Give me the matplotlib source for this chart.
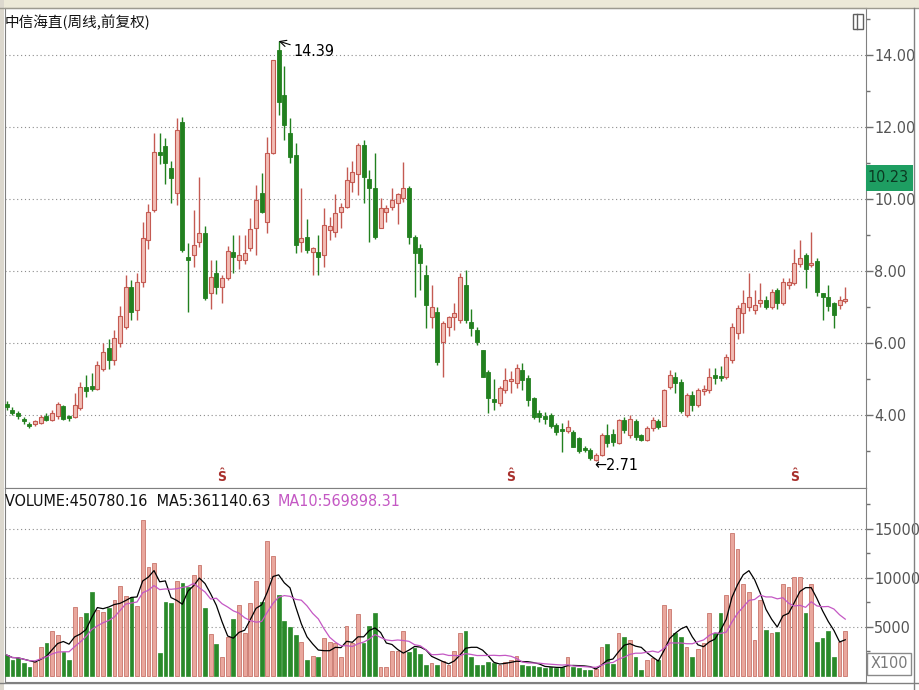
import matplotlib
matplotlib.use('Agg')
import matplotlib.pyplot as plt
import numpy as np
import pandas as pd
from matplotlib import font_manager
from matplotlib.patches import Rectangle
from matplotlib.lines import Line2D


def narrow_font():
    fm = font_manager.fontManager
    names = {f.name for f in fm.ttflist}
    if 'Liberation Sans Narrow' in names:
        return 'Liberation Sans Narrow', 'normal', 12.5
    for f in fm.ttflist:
        if f.name == 'DejaVu Sans' and 'Condensed' in f.fname and 'Bold' not in f.fname \
                and 'Oblique' not in f.fname:
            return 'DejaVu Sans', 'condensed', 11.5
    return 'Liberation Sans', 'normal', 10.5


NARROW, STRETCH, SZ = narrow_font()
plt.rcParams['font.family'] = [NARROW, 'DejaVu Sans']
plt.rcParams['font.stretch'] = STRETCH
CJK = ['Noto Sans CJK SC', 'DejaVu Sans']

# weekly OHLC
opens = [4.30, 4.15, 4.05, 3.90, 3.76, 3.74, 3.78, 3.98, 3.86, 3.96,
         4.24, 3.96, 3.95, 4.20, 4.78, 4.80, 4.72, 5.28, 5.86, 5.53,
         6.00, 6.45, 7.56, 6.92, 7.70, 8.86, 9.69, 11.31, 11.47, 10.86,
         10.16, 12.15, 8.40, 8.44, 8.81, 9.05, 7.39, 7.94, 7.56, 7.80,
         8.53, 8.31, 8.31, 8.64, 9.19, 10.16, 9.37, 11.27, 14.14, 12.89,
         11.83, 11.22, 8.81, 8.95, 8.53, 8.53, 8.44, 9.14, 9.09, 9.65,
         9.79, 10.48, 10.71, 11.50, 10.57, 10.30, 9.19, 9.65, 9.77, 9.88,
         10.02, 10.30, 8.95, 8.64, 7.89, 6.73, 6.87, 6.04, 6.45, 6.71,
         6.64, 7.61, 6.59, 6.36, 5.81, 5.20, 4.45, 4.32, 4.69, 4.95,
         4.88, 5.25, 5.02, 4.46, 4.05, 3.98, 4.00, 3.72, 3.60, 3.56,
         3.54, 3.36, 3.08, 3.03, 2.76, 2.89, 3.44, 3.46, 3.22, 3.86,
         3.44, 3.84, 3.44, 3.31, 3.63, 3.84, 3.70, 4.78, 5.06, 4.92,
         4.00, 4.56, 4.28, 4.66, 4.69, 5.11, 5.08, 5.06, 5.53, 6.27,
         6.82, 7.01, 6.92, 7.10, 7.20, 7.01, 7.48, 7.10, 7.60, 7.67,
         8.19, 8.44, 8.17, 8.29, 7.38, 7.27, 7.10, 7.06, 7.16]
highs = [4.38, 4.22, 4.10, 3.95, 3.80, 3.86, 4.00, 4.05, 4.14, 4.36,
         4.28, 4.00, 4.62, 4.92, 5.12, 5.17, 5.50, 6.00, 6.10, 6.35,
         7.04, 7.88, 7.75, 7.94, 9.36, 9.85, 11.83, 11.83, 11.70, 11.05,
         12.25, 12.28, 8.78, 9.69, 10.62, 9.25, 8.30, 8.30, 7.88, 8.70,
         9.00, 9.00, 9.00, 9.48, 10.40, 10.72, 11.72, 13.86, 14.39, 13.69,
         12.25, 11.55, 10.30, 9.45, 8.68, 9.00, 9.75, 9.50, 10.15, 9.90,
         10.90, 11.05, 11.55, 11.65, 10.80, 11.27, 10.02, 9.84, 10.30, 10.18,
         11.04, 10.35, 9.00, 8.75, 8.17, 7.61, 7.01, 6.60, 6.76, 7.10,
         7.95, 8.03, 6.95, 6.45, 5.81, 5.25, 5.00, 4.80, 5.30, 5.22,
         5.42, 5.44, 5.10, 4.50, 4.15, 4.08, 4.05, 3.78, 3.78, 3.85,
         3.58, 3.40, 3.15, 3.08, 2.95, 3.50, 3.75, 3.60, 3.90, 3.95,
         4.00, 3.88, 3.48, 3.70, 3.95, 3.90, 4.72, 5.25, 5.20, 5.00,
         4.62, 4.66, 4.74, 4.82, 5.30, 5.30, 5.35, 5.70, 6.55, 7.05,
         7.48, 7.94, 7.48, 7.68, 7.30, 7.50, 7.52, 7.80, 7.80, 8.60,
         8.86, 8.50, 9.09, 8.35, 7.40, 7.60, 7.14, 7.30, 7.56]
lows = [4.15, 4.00, 3.90, 3.76, 3.63, 3.70, 3.75, 3.82, 3.82, 3.90,
        3.86, 3.84, 3.92, 4.15, 4.50, 4.66, 4.68, 5.22, 5.28, 5.40,
        5.88, 6.40, 6.65, 6.64, 7.55, 8.62, 9.65, 10.98, 10.42, 9.90,
        9.84, 8.52, 6.87, 8.12, 8.66, 7.20, 6.95, 7.35, 7.10, 7.75,
        7.94, 8.05, 8.20, 8.55, 8.45, 9.60, 9.05, 11.25, 12.33, 11.64,
        11.00, 8.50, 8.53, 8.50, 7.89, 7.89, 8.10, 8.85, 8.95, 9.20,
        9.75, 10.20, 10.10, 9.90, 8.80, 8.90, 9.19, 9.35, 9.70, 9.30,
        9.92, 8.75, 7.29, 7.47, 6.42, 6.42, 5.40, 5.06, 6.20, 6.35,
        6.55, 6.55, 6.20, 5.95, 5.06, 4.05, 4.15, 4.25, 4.62, 4.62,
        4.75, 4.70, 4.25, 3.90, 3.80, 3.75, 3.65, 3.45, 2.98, 3.50,
        3.10, 2.95, 2.98, 2.75, 2.71, 2.86, 3.12, 3.15, 3.20, 3.50,
        3.35, 3.30, 3.28, 3.28, 3.55, 3.62, 3.68, 4.72, 4.60, 4.05,
        3.95, 4.12, 4.22, 4.55, 4.62, 4.85, 4.95, 5.00, 5.45, 6.10,
        6.27, 6.88, 6.80, 7.00, 6.95, 6.95, 6.95, 7.05, 7.50, 7.60,
        8.12, 7.53, 8.10, 7.30, 6.64, 6.90, 6.42, 6.95, 7.10]
closes = [4.22, 4.05, 3.97, 3.82, 3.70, 3.82, 3.95, 3.86, 4.06, 4.30,
          3.90, 3.92, 4.28, 4.78, 4.66, 4.72, 5.38, 5.76, 5.52, 6.14,
          6.75, 7.56, 6.87, 7.70, 8.92, 9.65, 11.31, 11.22, 10.99, 10.58,
          11.92, 8.58, 8.31, 8.72, 9.05, 7.25, 7.84, 7.56, 7.80, 8.56,
          8.40, 8.44, 8.50, 9.17, 9.97, 9.65, 11.27, 13.86, 12.70, 12.05,
          11.18, 8.72, 8.91, 8.58, 8.64, 8.40, 9.28, 9.25, 9.60, 9.79,
          10.53, 10.76, 11.50, 10.62, 10.30, 8.95, 9.75, 9.75, 9.97, 10.14,
          10.30, 8.95, 8.49, 8.21, 7.06, 7.01, 5.48, 6.55, 6.73, 6.82,
          7.84, 6.64, 6.41, 6.04, 5.06, 4.47, 4.37, 4.74, 4.97, 4.97,
          5.30, 4.97, 4.42, 3.95, 3.95, 3.90, 3.70, 3.52, 3.56, 3.66,
          3.12, 3.00, 3.03, 2.80, 2.89, 3.44, 3.22, 3.25, 3.86, 3.58,
          3.88, 3.38, 3.31, 3.63, 3.86, 3.66, 4.69, 5.11, 4.88, 4.10,
          4.56, 4.28, 4.69, 4.70, 5.06, 5.02, 5.04, 5.62, 6.45, 6.96,
          7.10, 7.27, 7.06, 7.20, 7.00, 7.42, 7.10, 7.70, 7.70, 8.21,
          8.35, 8.07, 8.20, 7.42, 7.27, 7.02, 6.78, 7.20, 7.20]
# volume in units of 100 lots
volumes = [2140, 1630, 1800, 1290, 950, 1460, 2990, 3330, 4620, 4180,
           2480, 1630, 7070, 6050, 6460, 8600, 6730, 6500, 6900, 7750,
           9180, 8160, 8090, 7140, 15900, 11150, 11490, 2380, 7580, 7410,
           9720, 9520, 9110, 10300, 11320, 6900, 4280, 3260, 1970, 4010,
           5780, 7240, 4350, 7410, 9720, 7580, 13800, 12240, 8260, 5640,
           5030, 4180, 3500, 1630, 2040, 1900, 3840, 3500, 3330, 1900,
           5130, 3330, 6290, 3330, 5130, 6460, 950, 950, 2580, 2580,
           4620, 2480, 2820, 2240, 1120, 1360, 1120, 1500, 1120, 2580,
           4350, 4620, 1970, 1120, 1120, 1460, 1290, 1120, 1460, 1630,
           2040, 1120, 1020, 1020, 950, 780, 880, 780, 950, 1900,
           880, 780, 610, 610, 680, 2920, 3230, 1220, 4350, 4010,
           3670, 1970, 610, 1630, 1800, 1630, 7240, 6800, 4350, 4010,
           2920, 1900, 2720, 3400, 6460, 4350, 6460, 8260, 14620, 12950,
           9380, 8530, 3670, 7750, 4690, 4350, 4520, 9380, 9040, 10130,
           10060, 6460, 9380, 3500, 3840, 4620, 1900, 3500, 4620]

price_ticks = [4, 6, 8, 10, 12, 14]
vol_ticks = [5000, 10000, 15000]
s_marks = [38, 89, 139]

RED_FACE, RED_EDGE = '#F2BDB5', '#C45A52'
GREEN = '#22801F'
RED_BAR, RED_BAR_EDGE = '#E9A79D', '#C9756B'

W, H = 920, 690


def fx(px):
    return px / W


def fy(py):
    return 1 - py / H


o = np.array(opens)
h = np.array(highs)
l = np.array(lows)
c = np.array(closes)
v = np.array(volumes)
x = np.arange(len(o))
up = c >= o

fig = plt.figure(figsize=(9.2, 6.9), dpi=100)
fig.patch.set_facecolor('white')

# window frame
fig.add_artist(Rectangle((0, fy(8)), 1, 8 / H, transform=fig.transFigure,
                         facecolor='#ECE9D8', edgecolor='none', zorder=0))
fig.add_artist(Rectangle((0, 0), fx(4), 1, transform=fig.transFigure,
                         facecolor='#DCD8CE', edgecolor='none', zorder=0))
fig.add_artist(Line2D([0, 1], [fy(8), fy(8)], transform=fig.transFigure, color='#9C9A90', lw=1))
fig.add_artist(Line2D([fx(914), fx(914)], [0, fy(8)], transform=fig.transFigure, color='#808080', lw=1))

ax = fig.add_axes([fx(5), fy(488), 861 / W, 480 / H])
axv = fig.add_axes([fx(5), fy(682), 861 / W, 194 / H])

# candles
ax.vlines(x[up], l[up], h[up], color=RED_EDGE, lw=1, zorder=2)
ax.vlines(x[~up], l[~up], h[~up], color=GREEN, lw=1, zorder=2)
body_lo = np.minimum(o, c)
body_h = np.maximum(np.abs(c - o), 0.05)
ax.bar(x[up], body_h[up], bottom=body_lo[up], width=0.7,
       facecolor=RED_FACE, edgecolor=RED_EDGE, lw=0.8, zorder=3)
ax.bar(x[~up], body_h[~up], bottom=body_lo[~up], width=0.7,
       facecolor=GREEN, edgecolor=GREEN, lw=0.6, zorder=3)

ax.set_xlim(-0.3, 151.66)
ax.set_ylim(1.97, 15.31)
ax.yaxis.tick_right()
ax.set_yticks(price_ticks)
ax.set_yticklabels([f'{t:.2f}' for t in price_ticks])
ax.set_yticks([3, 5, 7, 9, 11, 13, 15], minor=True)
ax.tick_params(axis='y', which='major', direction='out', length=5, width=1,
               color='#707070', labelsize=SZ, labelcolor='#555555', pad=1)
ax.tick_params(axis='y', which='minor', direction='out', length=3, width=1, color='#707070')
ax.tick_params(axis='x', bottom=False, labelbottom=False)
ax.grid(axis='y', which='major', linestyle=(0, (1, 2.5)), color='#8C8C8C', lw=0.8)
for sp in ax.spines.values():
    sp.set_color('#808080')

fig.text(fx(5), fy(22), '中信海直(周线,前复权)', family=CJK, fontsize=10.5,
         va='center', ha='left', color='#111111')

ax.annotate('14.39', xy=(48, 14.39), xytext=(293, H - 52), textcoords='figure pixels',
            fontsize=SZ, va='center', ha='left',
            arrowprops=dict(arrowstyle='->', color='black', lw=0.8, shrinkA=0, shrinkB=0))
fig.text(fx(594), fy(466), '←2.71', family=[NARROW, 'DejaVu Sans'], fontsize=SZ,
         va='center', ha='left', color='black')

for i in s_marks:
    ax.text(i, 14 - (477 - 55) / 36, 'Ŝ', color='#A8302C', fontsize=10,
            fontweight='bold', ha='center', va='center', family=['DejaVu Sans'])

# last price box and small icon
fig.add_artist(Rectangle((fx(866), fy(191)), 47 / W, 26 / H, transform=fig.transFigure,
                         facecolor='#1E9E62', edgecolor='none', zorder=5))
fig.text(fx(867), fy(178), '10.23', fontsize=SZ, color='#0B3A22', va='center', ha='left', zorder=6)
fig.add_artist(Rectangle((fx(853), fy(29)), 10 / W, 15 / H, transform=fig.transFigure,
                         facecolor='none', edgecolor='#606060', lw=1, zorder=5))
fig.add_artist(Line2D([fx(857.5), fx(857.5)], [fy(29), fy(14)], transform=fig.transFigure,
                      color='#606060', lw=1, zorder=5))

# volume panel
vr = np.where(up)[0]
vg = np.where(~up)[0]
axv.bar(vr, v[vr], width=0.65, facecolor=RED_BAR, edgecolor=RED_BAR_EDGE, lw=0.6, zorder=3)
axv.bar(vg, v[vg], width=0.65, facecolor='#2A8A2A', edgecolor='#2A8A2A', lw=0.5, zorder=3)
vs = pd.Series(volumes, dtype=float)
axv.plot(x, vs.rolling(5, min_periods=1).mean(), color='black', lw=0.9, zorder=4)
axv.plot(x, vs.rolling(10, min_periods=1).mean(), color='#C458C4', lw=0.9, zorder=4)

axv.set_xlim(-0.3, 151.66)
axv.set_ylim(-612, 19180)
axv.yaxis.tick_right()
axv.set_yticks(vol_ticks)
axv.set_yticklabels([str(t) for t in vol_ticks])
axv.set_yticks([2500, 7500, 12500, 17500], minor=True)
axv.tick_params(axis='y', which='major', direction='out', length=5, width=1,
                color='#707070', labelsize=SZ, labelcolor='#555555', pad=1)
axv.tick_params(axis='y', which='minor', direction='out', length=3, width=1, color='#707070')
axv.tick_params(axis='x', bottom=False, labelbottom=False)
axv.grid(axis='y', which='major', linestyle=(0, (1, 2.5)), color='#8C8C8C', lw=0.8)
for sp in axv.spines.values():
    sp.set_color('#808080')

t1 = fig.text(fx(5), fy(502), 'VOLUME:450780.16  MA5:361140.63 ', fontsize=SZ,
              va='center', ha='left', color='#111111')
fig.canvas.draw()
bb = t1.get_window_extent()
fig.text(bb.x1 / W + 3 / W, fy(502), 'MA10:569898.31', fontsize=SZ,
         va='center', ha='left', color='#C458C4')

fig.add_artist(Rectangle((fx(867), fy(675)), 44 / W, 22 / H, transform=fig.transFigure,
                         facecolor='white', edgecolor='#8A8A8A', lw=1, zorder=5))
fig.text(fx(889), fy(664), 'X100', fontsize=SZ, color='#7A7A7A', va='center', ha='center', zorder=6)

fig.add_artist(Line2D([0, 1], [fy(683), fy(683)], transform=fig.transFigure, color='#808080', lw=1))

fig.savefig('out.png', dpi=100, facecolor=fig.get_facecolor())
